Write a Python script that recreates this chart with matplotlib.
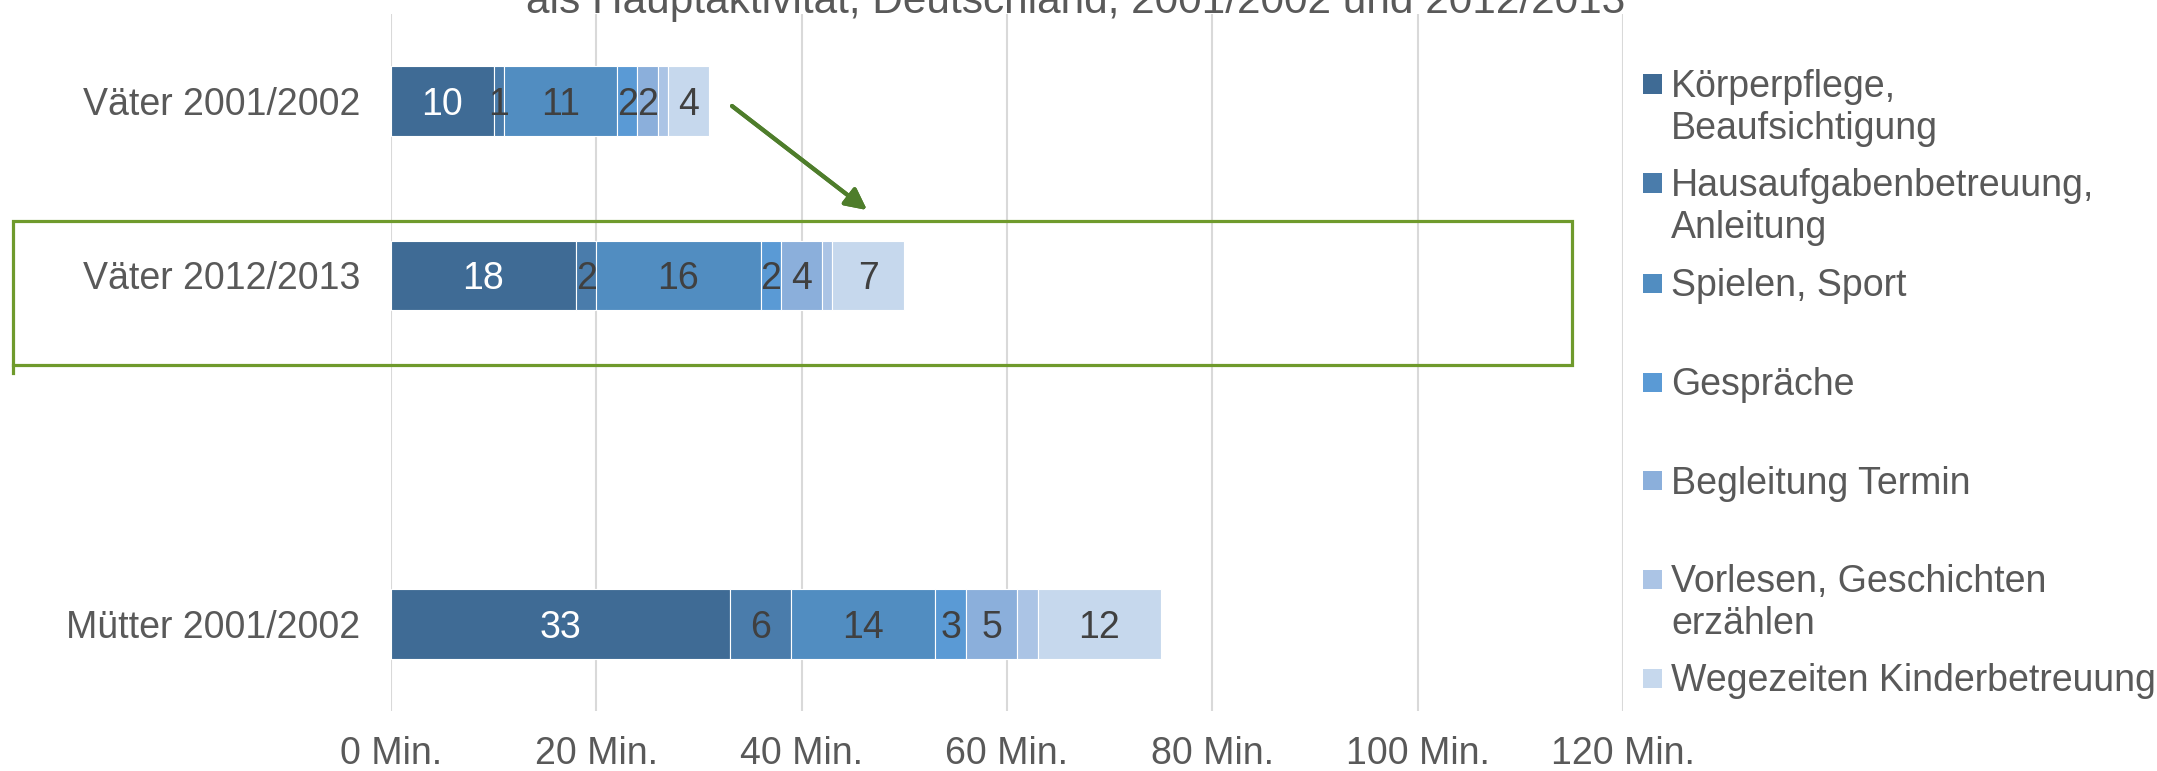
import numpy as np
import matplotlib
matplotlib.use("Agg")
import matplotlib.pyplot as plt
from matplotlib.patches import Rectangle
from matplotlib.lines import Line2D

plt.rcParams['font.family'] = ['Liberation Sans', 'DejaVu Sans']

# Daten (Minuten pro Tag)
kategorien = ["Väter 2001/2002", "Väter 2012/2013", "", "Mütter 2001/2002"]
serien = ["Körperpflege,\nBeaufsichtigung", "Hausaufgabenbetreuung,\nAnleitung",
          "Spielen, Sport", "Gespräche", "Begleitung Termin",
          "Vorlesen, Geschichten\nerzählen", "Wegezeiten Kinderbetreuung"]
koerperpflege = [10, 18, np.nan, 33]
hausaufgaben = [1, 2, np.nan, 6]
spielen = [11, 16, np.nan, 14]
gespraeche = [2, 2, np.nan, 3]
begleitung = [2, 4, np.nan, 5]
vorlesen = [1, 1, np.nan, 2]
wegezeiten = [4, 7, np.nan, 12]
x_ticks = [0, 20, 40, 60, 80, 100, 120]
titel = "als Hauptaktivität, Deutschland, 2001/2002 und 2012/2013"

werte = [koerperpflege, hausaufgaben, spielen, gespraeche, begleitung, vorlesen, wegezeiten]
farben = ['#3f6b95', '#4a7cab', '#518dc1', '#5a9ad5', '#8bafdb', '#abc4e5', '#c6d8ed']
mit_label = [True, True, True, True, True, False, True]
label_farben = ['white'] + ['#404040'] * 6

textfarbe = '#595959'
fs = 27
W, H = 2157, 771

fig = plt.figure(figsize=(W / 100, H / 100), dpi=100)
ax = fig.add_axes([391 / W, 1 - 711 / H, (1623 - 391) / W, (711 - 14) / H])

y = np.arange(len(kategorien))
links = np.zeros(len(kategorien))
for vals, farbe, lab, lf in zip(werte, farben, mit_label, label_farben):
    vals = np.array(vals, dtype=float)
    ax.barh(y, vals, left=links, height=0.4, color=farbe,
            edgecolor='white', linewidth=0.8, zorder=3)
    if lab:
        for i, v in enumerate(vals):
            if not np.isnan(v):
                ax.text(links[i] + v / 2, y[i], f"{int(v)}", ha='center',
                        va='center_baseline', fontsize=fs, color=lf, zorder=4)
    links = links + np.nan_to_num(vals)

ax.set_xlim(0, 120)
ax.set_ylim(len(kategorien) - 0.5, -0.5)
ax.set_xticks(x_ticks)
ax.set_xticklabels([f"{t} Min." for t in x_ticks])
ax.set_yticks(y)
ax.set_yticklabels(kategorien)
ax.tick_params(axis='both', length=0, labelsize=fs, colors=textfarbe)
ax.tick_params(axis='y', pad=22)
ax.tick_params(axis='x', pad=18)
ax.grid(axis='x', color='#d9d9d9', linewidth=1.5, zorder=0)
for s in ax.spines.values():
    s.set_visible(False)

# Titel (oben abgeschnitten)
fig.text(1076 / W, 1 - 13 / H, titel, ha='center', va='baseline',
         fontsize=30.5, color=textfarbe)

# Legende manuell
legende_y = [84, 183, 283, 382, 481, 579, 678]
for name, farbe, ly in zip(serien, farben, legende_y):
    fig.patches.append(Rectangle((1643 / W, 1 - (ly + 9.5) / H), 19 / W, 19 / H,
                                 transform=fig.transFigure, facecolor=farbe,
                                 edgecolor='none'))
    fig.text(1671 / W, 1 - (ly - 15) / H, name, ha='left', va='top',
             fontsize=fs, color=textfarbe, linespacing=1.2)

# grüner Rahmen und Pfeil
gruen = '#6f9a2c'
fig.patches.append(Rectangle((13 / W, 1 - 365 / H), (1572 - 13) / W, (365 - 221) / H,
                             transform=fig.transFigure, fill=False,
                             edgecolor=gruen, linewidth=2.3))
fig.lines.append(Line2D([13 / W, 13 / W], [1 - 365 / H, 1 - 373 / H],
                        transform=fig.transFigure, color=gruen, linewidth=2.3))
fig.add_artist(plt.annotate("", xy=(867 / W, 1 - 210 / H), xytext=(732 / W, 1 - 106 / H),
                            xycoords='figure fraction', textcoords='figure fraction',
                            arrowprops=dict(arrowstyle='-|>', color='#4e7d2b', lw=3,
                                            mutation_scale=32, shrinkA=0, shrinkB=0)))

fig.savefig("out.png", dpi=100)
